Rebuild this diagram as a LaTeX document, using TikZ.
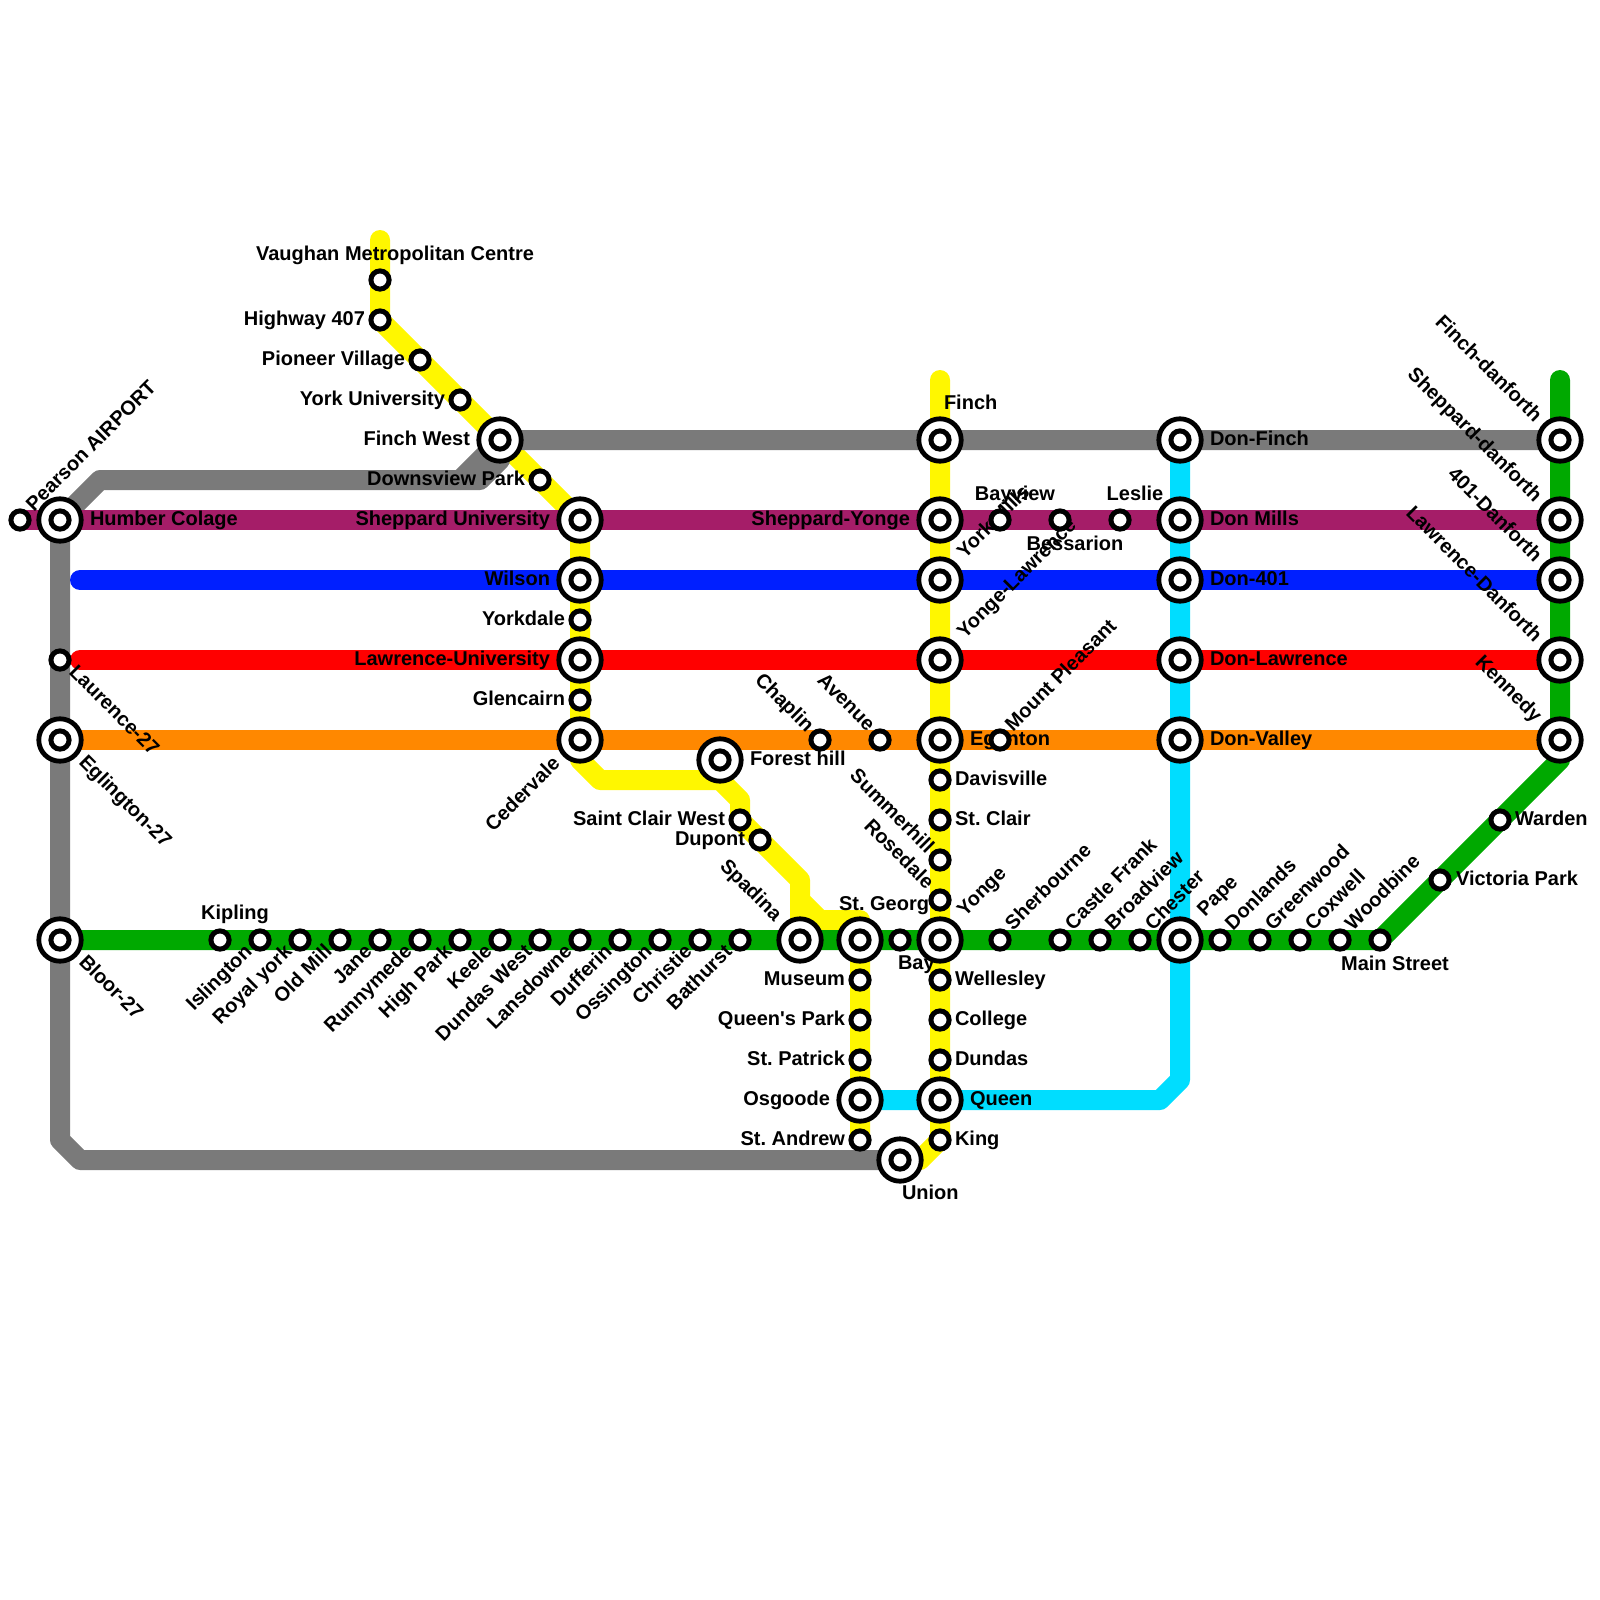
\documentclass[tikz,border=0pt]{standalone}
\usepackage{fontspec}
\setmainfont{Liberation Sans}[Scale=1]
\pgfdeclarelayer{lines}\pgfdeclarelayer{labels}
\pgfsetlayers{lines,labels,main}
\definecolor{cgrey}{HTML}{7A7A7A}\definecolor{cpurple}{HTML}{A51D68}
\definecolor{cblue}{HTML}{001FFF}\definecolor{cred}{HTML}{FF0000}
\definecolor{corange}{HTML}{FF8800}\definecolor{cgreen}{HTML}{00A900}
\definecolor{cyellow}{HTML}{FFF700}\definecolor{ccyan}{HTML}{00DDFF}
\tikzset{
 stn/.style={circle,draw=black,fill=white,line width=5pt,inner sep=0pt,outer sep=0pt,minimum size=18.2pt},
 hub/.style={circle,draw=black,fill=white,line width=4.8pt,inner sep=0pt,outer sep=0pt,minimum size=42.4pt,
   label={[stn]center:{}}},
 rail/.style={line width=20pt,line cap=round,line join=round},
 lbl/.style={inner sep=0pt,outer sep=0pt,text=black,font=\fontsize{20}{22}\selectfont\bfseries\frenchspacing},
 ru/.style={lbl,rotate=45},rd/.style={lbl,rotate=-45}
}
\newcommand{\Sm}[3]{\node[stn] (#1) at (#2,#3) {};}
\newcommand{\Hb}[3]{\node[hub] (#1) at (#2,#3) {};}
\begin{document}
\begin{tikzpicture}[x=1pt,y=-1pt]
\useasboundingbox (0,0) rectangle (1600,1600);
% hubs
\Hb{humber}{60}{520}\Hb{eglw}{60}{740}\Hb{bloor}{60}{940}
\Hb{finchw}{500}{440}\Hb{shepu}{580}{520}\Hb{wilson}{580}{580}\Hb{lawu}{580}{660}\Hb{ceder}{580}{740}
\Hb{forest}{720}{760}\Hb{spadina}{800}{940}\Hb{stgeo}{860}{940}\Hb{osgoode}{860}{1100}\Hb{union}{900}{1160}
\Hb{finch}{940}{440}\Hb{shepy}{940}{520}\Hb{yorkm}{940}{580}\Hb{yongel}{940}{660}\Hb{egl}{940}{740}\Hb{yonge}{940}{940}\Hb{queen}{940}{1100}
\Hb{donf}{1180}{440}\Hb{donm}{1180}{520}\Hb{don4}{1180}{580}\Hb{donl}{1180}{660}\Hb{donv}{1180}{740}\Hb{pape}{1180}{940}
\Hb{fd}{1560}{440}\Hb{sd}{1560}{520}\Hb{ad}{1560}{580}\Hb{ld}{1560}{660}\Hb{kennedy}{1560}{740}
% small
\Sm{pearson}{20}{520}\Sm{laur}{60}{660}
\Sm{vaughan}{380}{280}\Sm{h407}{380}{320}\Sm{pioneer}{420}{360}\Sm{yorku}{460}{400}\Sm{downs}{540}{480}
\Sm{yorkd}{580}{620}\Sm{glenc}{580}{700}\Sm{stcw}{740}{820}\Sm{dupont}{760}{840}
\Sm{chaplin}{820}{740}\Sm{avenue}{880}{740}\Sm{mtp}{1000}{740}
\Sm{bayv}{1000}{520}\Sm{bess}{1060}{520}\Sm{leslie}{1120}{520}
\Sm{davis}{940}{780}\Sm{stcl}{940}{820}\Sm{summer}{940}{860}\Sm{rosed}{940}{900}
\Sm{welle}{940}{980}\Sm{coll}{940}{1020}\Sm{dund}{940}{1060}\Sm{king}{940}{1140}
\Sm{museum}{860}{980}\Sm{qpark}{860}{1020}\Sm{stpat}{860}{1060}\Sm{standr}{860}{1140}
\Sm{bay}{900}{940}
\Sm{kipling}{220}{940}\Sm{isl}{260}{940}\Sm{royal}{300}{940}\Sm{oldm}{340}{940}\Sm{jane}{380}{940}\Sm{runny}{420}{940}
\Sm{highp}{460}{940}\Sm{keele}{500}{940}\Sm{dundw}{540}{940}\Sm{lans}{580}{940}\Sm{duff}{620}{940}\Sm{oss}{660}{940}
\Sm{chris}{700}{940}\Sm{bath}{740}{940}
\Sm{sherb}{1000}{940}\Sm{castle}{1060}{940}\Sm{broad}{1100}{940}\Sm{chest}{1140}{940}
\Sm{donl2}{1220}{940}\Sm{green}{1260}{940}\Sm{coxw}{1300}{940}\Sm{woodb}{1340}{940}\Sm{mainst}{1380}{940}
\Sm{vicp}{1440}{880}\Sm{warden}{1500}{820}
% free ends and bends
\coordinate (y1top) at (380,240);\coordinate (y1b) at (580,760);\coordinate (y1c) at (600,780);
\coordinate (y1d) at (720,780);\coordinate (y1e) at (740,800);\coordinate (y1f) at (800,880);\coordinate (y1g) at (800,900);
\coordinate (y1h) at (820,920);\coordinate (y1i) at (860,920);\coordinate (y2top) at (940,380);\coordinate (y2a) at (920,1160);
\coordinate (gr1) at (500,460);\coordinate (gr2) at (480,480);\coordinate (gr7) at (460,480);\coordinate (gr3) at (100,480);\coordinate (gr4) at (60,1140);\coordinate (gr5) at (80,1160);
\coordinate (bl0) at (80,580);\coordinate (re0) at (80,660);\coordinate (gtop) at (1560,380);\coordinate (gbend) at (1560,760);
\coordinate (cy1) at (1180,1080);\coordinate (cy2) at (1160,1100);
\begin{pgfonlayer}{lines}
\draw[rail,cyellow] (y1top) -- (h407.center) -- (shepu.center) -- (y1b) -- (y1c) -- (y1d) -- (y1e) -- (stcw.center) -- (y1f) -- (y1g) -- (y1h) -- (y1i) -- (stgeo.center) -- (standr.center);
\draw[rail,cyellow] (y1g) -- (spadina.center);
\draw[rail,cyellow] (y2top) -- (king.center) -- (y2a) -- (union.center);
\draw[rail,ccyan] (donf.center) -- (cy1) -- (cy2) -- (osgoode.center);
\draw[rail,cgrey] (fd.center) -- (finchw.center) -- (gr7) -- (gr3) -- (humber.center) -- (gr4) -- (gr5) -- (union.center);
\draw[rail,cgrey] (gr7) -- (gr2) -- (gr1) -- (finchw.center);
\draw[rail,cpurple] (pearson.center) -- (sd.center);
\draw[rail,cblue] (bl0) -- (ad.center);
\draw[rail,cred] (re0) -- (ld.center);
\draw[rail,corange] (eglw.center) -- (kennedy.center);
\draw[rail,cgreen] (bloor.center) -- (mainst.center) -- (gbend) -- (gtop);
\end{pgfonlayer}
\begin{pgfonlayer}{labels}
% horizontal
\node[lbl,anchor=base] (t1) at (395,260) {Vaughan Metropolitan Centre};
\node[lbl,anchor=base east] (t2) at (365,325) {Highway 407};
\node[lbl,anchor=base east] (t3) at (405,365) {Pioneer Village};
\node[lbl,anchor=base east] (t4) at (445,405) {York University};
\node[lbl,anchor=base east] (t5) at (470,445) {Finch West};
\node[lbl,anchor=base east] (t6) at (525,485) {Downsview Park};
\node[lbl,anchor=base east] (t7) at (550,525) {Sheppard University};
\node[lbl,anchor=base east] (t8) at (550,585) {Wilson};
\node[lbl,anchor=base east] (t9) at (565,625) {Yorkdale};
\node[lbl,anchor=base east] (t10) at (550,665) {Lawrence-University};
\node[lbl,anchor=base east] (t11) at (565,705) {Glencairn};
\node[lbl,anchor=base west] (t12) at (90,525) {Humber Colage};
\node[lbl,anchor=base east] (t13) at (725,825) {Saint Clair West};
\node[lbl,anchor=base east] (t14) at (745,845) {Dupont};
\node[lbl,anchor=base west] (t15) at (750,765) {Forest hill};
\node[lbl,anchor=base east] (t16) at (910,525) {Sheppard-Yonge};
\node[lbl,anchor=base west] (t17) at (944,409) {Finch};
\node[lbl,anchor=base] (t18) at (1015,500) {Bayview};
\node[lbl,anchor=base] (t19) at (1135,500) {Leslie};
\node[lbl,anchor=base] (t20) at (1075,550) {Bessarion};
\node[lbl,anchor=base west] (t21) at (970,745) {Eglinton};
\node[lbl,anchor=base west] (t22) at (955,785) {Davisville};
\node[lbl,anchor=base west] (t23) at (955,825) {St. Clair};
\node[lbl,anchor=base east] (t24) at (929,910) {St. Georg};
\node[lbl,anchor=base west] (t25) at (898,969) {Bay};
\node[lbl,anchor=base east] (t26) at (845,985) {Museum};
\node[lbl,anchor=base east] (t27) at (845,1025) {Queen\textquotesingle s Park};
\node[lbl,anchor=base east] (t28) at (845,1065) {St. Patrick};
\node[lbl,anchor=base east] (t29) at (830,1105) {Osgoode};
\node[lbl,anchor=base east] (t30) at (845,1145) {St. Andrew};
\node[lbl,anchor=base west] (t31) at (955,985) {Wellesley};
\node[lbl,anchor=base west] (t32) at (955,1025) {College};
\node[lbl,anchor=base west] (t33) at (955,1065) {Dundas};
\node[lbl,anchor=base west] (t34) at (970,1105) {Queen};
\node[lbl,anchor=base west] (t35) at (955,1145) {King};
\node[lbl,anchor=base west] (t36) at (902,1199) {Union};
\node[lbl,anchor=base] (t37) at (235,919) {Kipling};
\node[lbl,anchor=base west] (t38) at (1210,445) {Don-Finch};
\node[lbl,anchor=base west] (t39) at (1210,525) {Don Mills};
\node[lbl,anchor=base west] (t40) at (1210,585) {Don-401};
\node[lbl,anchor=base west] (t41) at (1210,665) {Don-Lawrence};
\node[lbl,anchor=base west] (t42) at (1210,745) {Don-Valley};
\node[lbl,anchor=base] (t43) at (1395,970) {Main Street};
\node[lbl,anchor=base west] (t44) at (1456,885) {Victoria Park};
\node[lbl,anchor=base west] (t45) at (1515,825) {Warden};
% up-right, starting at the station
\node[ru,anchor=base west] (r1) at (34,512) {Pearson AIRPORT};
\node[ru,anchor=base west] (r2) at (965,559) {York Mills};
\node[ru,anchor=base west] (r3) at (965,639) {Yonge-Lawrence};
\node[ru,anchor=base west] (r4) at (1013,732) {Mount Pleasant};
\node[ru,anchor=base west] (r5) at (965,917) {Yonge};
\node[ru,anchor=base west] (r6) at (1013,931) {Sherbourne};
\node[ru,anchor=base west] (r7) at (1073,931) {Castle Frank};
\node[ru,anchor=base west] (r8) at (1113,931) {Broadview};
\node[ru,anchor=base west] (r9) at (1153,931) {Chester};
\node[ru,anchor=base west] (r10) at (1205,917) {Pape};
\node[ru,anchor=base west] (r11) at (1233,931) {Donlands};
\node[ru,anchor=base west] (r12) at (1273,931) {Greenwood};
\node[ru,anchor=base west] (r13) at (1313,931) {Coxwell};
\node[ru,anchor=base west] (r14) at (1353,931) {Woodbine};
% up-right, ending at the station
\node[ru,anchor=base east] (e1) at (253,953) {Islington};
\node[ru,anchor=base east] (e2) at (293,953) {Royal york};
\node[ru,anchor=base east] (e3) at (333,953) {Old Mill};
\node[ru,anchor=base east] (e4) at (373,953) {Jane};
\node[ru,anchor=base east] (e5) at (413,953) {Runnymede};
\node[ru,anchor=base east] (e6) at (453,953) {High Park};
\node[ru,anchor=base east] (e7) at (493,953) {Keele};
\node[ru,anchor=base east] (e8) at (533,953) {Dundas West};
\node[ru,anchor=base east] (e9) at (573,953) {Lansdowne};
\node[ru,anchor=base east] (e10) at (613,953) {Dufferin};
\node[ru,anchor=base east] (e11) at (653,953) {Ossington};
\node[ru,anchor=base east] (e12) at (693,953) {Christie};
\node[ru,anchor=base east] (e13) at (733,953) {Bathurst};
\node[ru,anchor=base east] (e14) at (561,765) {Cedervale};
% down-right, starting at the station
\node[rd,anchor=base west] (d1) at (68,673) {Laurence-27};
\node[rd,anchor=base west] (d2) at (78,763) {Eglington-27};
\node[rd,anchor=base west] (d3) at (78,963) {Bloor-27};
% down-right, ending at the station
\node[rd,anchor=base east] (u1) at (806,733) {Chaplin};
\node[rd,anchor=base east] (u2) at (867,732) {Avenue};
\node[rd,anchor=base east] (u3) at (774,922) {Spadina};
\node[rd,anchor=base east] (u4) at (926,854) {Summerhill};
\node[rd,anchor=base east] (u5) at (926,890) {Rosedale};
\node[rd,anchor=base east] (u6) at (1534,423) {Finch-danforth};
\node[rd,anchor=base east] (u7) at (1534,503) {Sheppard-danforth};
\node[rd,anchor=base east] (u8) at (1534,563) {401-Danforth};
\node[rd,anchor=base east] (u9) at (1534,643) {Lawrence-Danforth};
\node[rd,anchor=base east] (u10) at (1534,723) {Kennedy};
\end{pgfonlayer}
\end{tikzpicture}
\end{document}
